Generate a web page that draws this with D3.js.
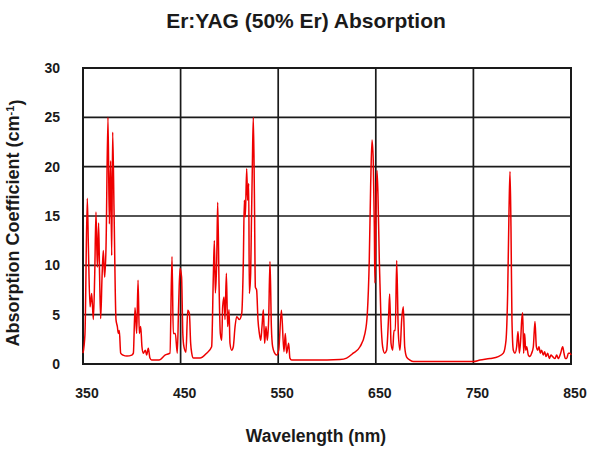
<!DOCTYPE html>
<html>
<head>
<meta charset="utf-8">
<script src="https://cdn.jsdelivr.net/npm/d3@7"></script>
<style>
  body { margin: 0; background: #fff; }
  text { font-family: "Liberation Sans", Arial, sans-serif; font-weight: bold; fill: #1a1a1a; }
</style>
</head>
<body>
<div id="chart"></div>
<script>
// spectrum: wavelength (nm) and absorption coefficient (cm^-1)
var wavelength = [
  350, 352, 354.4, 355.5, 357.2, 358.9, 360.6, 362, 363.3, 364.7, 366, 367, 368.1, 369.5, 370.8, 372.2, 373.6,
  375.6, 377, 378.3, 379.4, 380.4, 381.8, 383.8, 385.2, 386.2, 387.2, 388.6, 391, 395, 400, 401.6, 403.3, 405,
  406.4, 407.7, 409.1, 410.4, 411.8, 413.9, 415.2, 416.9, 418.6, 420.3, 428, 434, 439.1, 441.2, 442.5, 444.6,
  446.6, 448, 449.4, 451, 452.3, 453.4, 455.5, 457.3, 459, 460.3, 461.4, 463.1, 469.9, 476.7, 481.8, 483.6,
  484.6, 485.6, 487, 488, 489.4, 490.7, 492.1, 493.1, 494.5, 495.5, 496.9, 498.2, 499.6, 500.6, 502.3, 504,
  505.8, 507.5, 510.2, 512.6, 514.3, 515.3, 516.3, 517.7, 518.7, 519.8, 520.4, 521.8, 522.5, 523.5, 524.5,
  525.6, 526.6, 527.9, 529.3, 530.7, 532.1, 533.4, 534.8, 536.1, 537.5, 538.9, 540.2, 541.6, 543, 544.3,
  546.4, 548.4, 550.5, 553.3, 555.9, 557.3, 558.6, 560.7, 562, 563.8, 600, 613.3, 620.1, 626.9, 633.8, 638.9,
  641.3, 643.3, 644.7, 646.1, 647.4, 648.5, 649.1, 650.2, 651.2, 652.2, 653.6, 655.3, 657, 659, 661.1, 663.2,
  664.2, 665.6, 667.3, 668.6, 670, 671.4, 673.1, 674.8, 676.5, 678.2, 679.6, 681.6, 685, 688.5, 750, 756.8,
  767, 775.5, 780.7, 783.4, 785.1, 786.5, 787.5, 788.5, 789.5, 790.9, 792.6, 794.3, 795.7, 797.1, 798.4,
  799.5, 800.5, 801.5, 802.5, 803.6, 804.6, 806.3, 808, 809.7, 811.4, 813.1, 814.5, 815.8, 817.2, 818.6,
  819.9, 821.6, 823, 824.4, 826.1, 827.8, 829.5, 831.2, 833.6, 835.3, 837, 839.4, 841.5, 842.8, 844.2,
  845.6, 847.3, 849, 850
];
var absorption = [
  1.1, 3, 16.8, 12, 5.8, 7.15, 4.5, 9, 15.4, 9.8, 14.3, 9, 4.6, 8.8, 11.5, 8.8, 11.9,
  25, 14.2, 20.6, 11, 23.5, 15.6, 4.5, 3.8, 3.1, 3.4, 1.1, 0.9, 0.8, 0.9, 1.1, 5.7, 3.1,
  8.5, 3.1, 3.8, 1.75, 1.1, 1.4, 0.9, 1.6, 0.6, 0.4, 0.4, 0.9, 1.1, 10.9, 3.1, 3.1,
  1.1, 6, 9.7, 8.8, 3, 1.75, 1.2, 5.45, 5.1, 2.1, 1.1, 0.6, 0.6, 1.1, 1.75, 9.2,
  12.5, 7.2, 10.5, 16.4, 8, 3.1, 2.4, 5.8, 6.8, 4.5, 9.2, 3.8, 5.5, 2.1, 1.4, 1.75,
  3.8, 4.8, 4.5, 5.1, 10.5, 16.6, 14.9, 19.8, 16.6, 18.3, 7.15, 9.2, 13.9, 20, 25,
  17.3, 7.8, 7.5, 4.45, 3.1, 2.4, 3.8, 5.5, 2.1, 3.8, 2.4, 4.45, 10.4, 3.8, 1.75,
  1.1, 0.9, 1.4, 5.45, 1.25, 3.1, 1.1, 2.1, 0.6, 0.4, 0.4, 0.45, 0.6, 1.1, 1.75, 3.1,
  5.1, 10.5, 17.9, 22.7, 20.6, 13.9, 8.2, 15.6, 19.6, 17.3, 10.5, 4.45, 1.75, 1.1, 1.4, 5,
  7.1, 2.1, 1.4, 3.4, 3.4, 10.5, 3.1, 1.4, 4.45, 5.8, 1.75, 0.7, 0.4, 0.25, 0.25, 0.4,
  0.55, 0.75, 1.1, 2.4, 7.15, 15.6, 19.5, 13.9, 4.45, 1.4, 1.1, 1.75, 3.3, 1.1, 2.4,
  4.45, 5.2, 1.1, 3.1, 1.4, 1.75, 0.9, 0.75, 1.1, 1.75, 4.3, 1.75, 1.4, 1.75, 1.1,
  1.4, 0.9, 1.25, 0.75, 1.1, 0.55, 0.9, 0.75, 0.55, 0.9, 0.55, 1.1, 1.75, 1.1, 0.55,
  0.55, 1.1, 1.1, 0.9
];
var xTicks = [350, 450, 550, 650, 750, 850];
var yTicks = [0, 5, 10, 15, 20, 25, 30];

var outerWidth = 595, outerHeight = 449;
var margin = { top: 68, right: 24, bottom: 85, left: 83 },
    width = 571 - margin.left,
    height = 364 - margin.top;

var x = d3.scaleLinear().domain([350, 850]).range([0, width]);
var y = d3.scaleLinear().domain([0, 30]).range([height, 0]);

var svg = d3.select("#chart").append("svg")
    .attr("width", outerWidth)
    .attr("height", outerHeight);

var g = svg.append("g")
    .attr("transform", "translate(" + margin.left + "," + margin.top + ")");

// grid
g.append("g").selectAll("line.h")
    .data(yTicks).enter().append("line")
    .attr("x1", 0).attr("x2", width)
    .attr("y1", function(d) { return y(d); })
    .attr("y2", function(d) { return y(d); })
    .attr("stroke", "#1a1a1a").attr("stroke-width", 1.7);
g.append("g").selectAll("line.v")
    .data(xTicks).enter().append("line")
    .attr("y1", 0).attr("y2", height)
    .attr("x1", function(d) { return x(d); })
    .attr("x2", function(d) { return x(d); })
    .attr("stroke", "#1a1a1a").attr("stroke-width", 1.7);
g.append("rect")
    .attr("width", width).attr("height", height)
    .attr("fill", "none").attr("stroke", "#1a1a1a").attr("stroke-width", 2);

// tick labels
g.append("g").selectAll("text")
    .data(yTicks).enter().append("text")
    .attr("x", -23)
    .attr("y", function(d) { return y(d); })
    .attr("dy", "0.36em")
    .attr("text-anchor", "end")
    .style("font-size", "14px")
    .text(function(d) { return d; });
g.append("g").selectAll("text")
    .data(xTicks).enter().append("text")
    .attr("x", function(d) { return x(d) + 4; })
    .attr("y", 398 - margin.top)
    .attr("text-anchor", "middle")
    .style("font-size", "14px")
    .text(function(d) { return d; });

// spectrum
var data = wavelength.map(function(w, i) { return { w: w, a: absorption[i] }; });
var line = d3.line()
    .x(function(d) { return x(d.w); })
    .y(function(d) { return y(d.a); })
    .curve(d3.curveMonotoneX);
g.append("path")
    .datum(data)
    .attr("d", line)
    .attr("fill", "none")
    .attr("stroke", "#ee0000")
    .attr("stroke-width", 1.5)
    .attr("stroke-linejoin", "round");

// titles
svg.append("text")
    .attr("x", 306).attr("y", 28)
    .attr("text-anchor", "middle")
    .style("font-size", "21px")
    .text("Er:YAG (50% Er) Absorption");
svg.append("text")
    .attr("x", 316).attr("y", 442)
    .attr("text-anchor", "middle")
    .style("font-size", "17.5px")
    .text("Wavelength (nm)");
var yl = svg.append("text")
    .attr("transform", "translate(19,223) rotate(-90)")
    .attr("text-anchor", "middle")
    .style("font-size", "18px");
yl.append("tspan").text("Absorption Coefficient (cm");
yl.append("tspan").attr("dy", "-0.45em").style("font-size", "11px").text("-1");
yl.append("tspan").attr("dy", "0.45em").text(")");
</script>
</body>
</html>
